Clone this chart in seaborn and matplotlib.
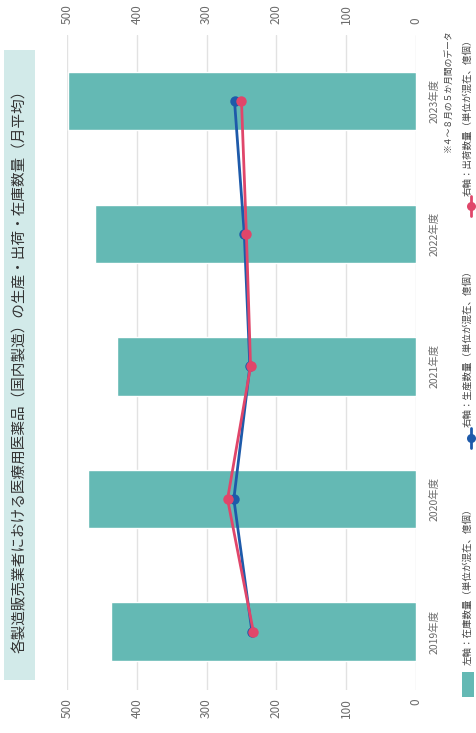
import numpy as np
import pandas as pd
import matplotlib
matplotlib.use("Agg")
import matplotlib.pyplot as plt
from matplotlib.patches import Rectangle
from matplotlib.lines import Line2D
import seaborn as sns

# 年度別の月平均数量（億個）
years = ["2019年度", "2020年度", "2021年度", "2022年度", "2023年度"]
inventory = [437, 470, 429, 460, 499]      # 左軸：在庫数量
production = [235, 261, 238, 246, 260]     # 右軸：生産数量
shipment = [233, 270, 237, 243, 250]       # 右軸：出荷数量
value_ticks = [0, 100, 200, 300, 400, 500]

title = "各製造販売業者における医療用医薬品（国内製造）の生産・出荷・在庫数量（月平均）"
legend_labels = [
    "左軸：在庫数量（単位が混在、億個）",
    "右軸：生産数量（単位が混在、億個）",
    "右軸：出荷数量（単位が混在、億個）",
]
footnote = "※４～８月の５か月間のデータ"

BAR = "#64b9b4"
BLUE = "#1e5aaa"
RED = "#e0466a"
GRID = "#e2e2e2"
TXT = "#6b6b6b"

sns.set_style("white")
plt.rcParams["font.family"] = ["Noto Sans CJK JP", "DejaVu Sans"]

W, H = 476, 733
fig = plt.figure(figsize=(W / 100, H / 100), dpi=100)

def fx(px):
    return px / W

def fy(py):
    return 1 - py / H

# 回転レイアウト：値軸は横（右が0）、年度は縦（下が2019年度）
ax = fig.add_axes([fx(67), fy(690), fx(416) - fx(67), fy(35) - fy(690)])

df = pd.DataFrame({"year": years, "inventory": inventory})
sns.barplot(data=df, x="inventory", y="year", order=years, orient="h",
            color=BAR, saturation=1, width=0.44, ax=ax, zorder=2)

pos = np.arange(len(years))
sns.lineplot(x=production, y=pos, orient="y", sort=False, color=BLUE,
             lw=2.0, marker="o", markersize=7.5, markeredgewidth=0, ax=ax, zorder=4)
sns.lineplot(x=shipment, y=pos, orient="y", sort=False, color=RED,
             lw=2.0, marker="o", markersize=7.5, markeredgewidth=0, ax=ax, zorder=5)

ax.set_xlim(500, 0)
ax.set_ylim(-0.44, 4.50)
ax.set_xlabel("")
ax.set_ylabel("")
for s in ax.spines.values():
    s.set_visible(False)

ax.set_xticks(value_ticks)
ax.set_xticklabels([str(v) for v in value_ticks])
ax.grid(axis="x", color=GRID, lw=1, zorder=0)
ax.grid(axis="y", visible=False)
ax.set_axisbelow(True)
ax.tick_params(axis="x", length=0, pad=6, labelsize=8.5, labelcolor=TXT,
               labelrotation=90)

ax.yaxis.tick_right()
ax.set_yticks(pos)
ax.set_yticklabels(years)
ax.tick_params(axis="y", length=0, pad=10, labelsize=7.5, labelcolor=TXT)
for lab in ax.get_yticklabels():
    lab.set_rotation(90)
    lab.set_va("center")
    lab.set_ha("left")

# 右軸（上側）の目盛
sec = ax.secondary_xaxis("top")
sec.set_xticks(value_ticks)
sec.set_xticklabels([str(v) for v in value_ticks])
sec.tick_params(axis="x", length=0, pad=8, labelsize=8.5, labelcolor=TXT,
                labelrotation=90)
for s in sec.spines.values():
    s.set_visible(False)

# タイトル帯
fig.patches.append(Rectangle((fx(4), fy(680)), fx(35) - fx(4), fy(50) - fy(680),
                             transform=fig.transFigure, facecolor="#d2eae9",
                             edgecolor="none"))
fig.text(fx(20), fy(368), title, rotation=90, ha="center", va="center",
         fontsize=10.5, color="#333333")

# 注記
fig.text(fx(448), fy(91), footnote, rotation=90, ha="center", va="center",
         fontsize=6.3, color="#444444")

# 凡例
lx = 468
fig.patches.append(Rectangle((fx(lx - 6), fy(697)), fx(12), fy(672) - fy(697),
                             transform=fig.transFigure, facecolor=BAR,
                             edgecolor="none"))
fig.text(fx(lx), fy(665), legend_labels[0], rotation=90, ha="center", va="bottom",
         fontsize=6.8, color="#444444")

for col, yc, ytxt, lab in [(BLUE, 438, 427, legend_labels[1]),
                           (RED, 206, 196, legend_labels[2])]:
    fig.add_artist(Line2D([fx(lx + 3), fx(lx + 3)], [fy(yc + 10), fy(yc - 10)],
                          transform=fig.transFigure, color=col, lw=2.0))
    fig.add_artist(Line2D([fx(lx + 3)], [fy(yc)], transform=fig.transFigure,
                          color=col, marker="o", markersize=6.5,
                          markeredgewidth=0))
    fig.text(fx(lx), fy(ytxt), lab, rotation=90, ha="center", va="bottom",
             fontsize=6.8, color="#444444")

fig.savefig("out.png", dpi=100, facecolor="white")
